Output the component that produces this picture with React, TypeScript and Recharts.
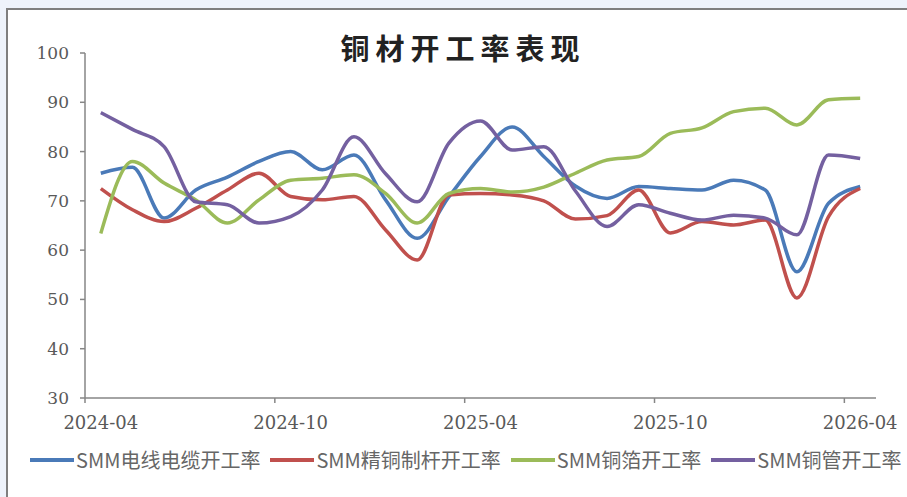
import { LineChart, Line, XAxis, YAxis } from "recharts";

const months = [
  "2024-04", "2024-05", "2024-06", "2024-07", "2024-08", "2024-09",
  "2024-10", "2024-11", "2024-12", "2025-01", "2025-02", "2025-03",
  "2025-04", "2025-05", "2025-06", "2025-07", "2025-08", "2025-09",
  "2025-10", "2025-11", "2025-12", "2026-01", "2026-02", "2026-03",
  "2026-04",
];

const wireCable = [75.6, 76.8, 66.5, 72.2, 74.8, 78, 80, 76.3, 79.3, 70.2, 62.4, 70.8, 79, 85, 79, 73, 70.5, 72.9, 72.5, 72.2, 74.2, 72.2, 55.6, 69.5, 72.9];
const copperRod = [72.5, 68.2, 65.8, 68.5, 72.2, 75.6, 70.9, 70.2, 70.9, 64.1, 58, 71.2, 71.5, 71.2, 70, 66.3, 67, 72.2, 63.5, 65.8, 65.1, 66.1, 50.3, 66.8, 72.5];
const copperFoil = [63.4, 78, 73.6, 70.2, 65.5, 70.2, 74.2, 74.6, 75.3, 71.5, 65.5, 71.5, 72.5, 71.8, 72.8, 75.6, 78.3, 79, 83.7, 84.8, 88.1, 88.8, 85.4, 90.5, 90.8];
const copperTube = [87.9, 84.5, 81, 69.8, 69.2, 65.5, 66.8, 72.2, 83, 75.5, 69.8, 81.7, 86.2, 80.3, 81, 72, 64.8, 69.2, 67.5, 66.1, 67.1, 66.5, 63.1, 79.3, 78.6];

const yTicks = [30, 40, 50, 60, 70, 80, 90, 100];
const labelTicks = [0.5, 6.5, 12.5, 18.5, 24.5];

const series = [
  { key: "wire", name: "SMM电线电缆开工率", color: "#4a7ab8", values: wireCable },
  { key: "rod", name: "SMM精铜制杆开工率", color: "#c0504d", values: copperRod },
  { key: "foil", name: "SMM铜箔开工率", color: "#9bbb59", values: copperFoil },
  { key: "tube", name: "SMM铜管开工率", color: "#7460a0", values: copperTube },
];

const data = months.map((m, i) => {
  const row: Record<string, number | string> = { month: m, x: i + 0.5 };
  series.forEach((s) => {
    row[s.key] = s.values[i];
  });
  return row;
});

const W = 907;
const H = 497;
const margin = { top: 53, right: 31, bottom: 69, left: 25 };
const yAxisWidth = 60;
const plotWidth = W - margin.left - margin.right - yAxisWidth;
const halfBand = plotWidth / months.length / 2;
const TICK_SIZE = 5;
const TICK_MARGIN = 13;

const tickFont = { fill: "#595959", fontSize: 18, fontFamily: "DejaVu Serif" };

// label sits in the middle of the month, tick mark on the month boundary
function MonthTick(props: any) {
  const { x, y, payload } = props;
  const axisY = y - TICK_MARGIN - TICK_SIZE;
  return (
    <g>
      <line
        x1={x - halfBand}
        x2={x - halfBand}
        y1={axisY}
        y2={axisY + TICK_SIZE}
        stroke="#868686"
        strokeWidth={1.5}
      />
      <text x={x} y={y} dy="0.71em" textAnchor="middle" {...tickFont}>
        {months[Math.floor(payload.value)]}
      </text>
    </g>
  );
}

export default function App() {
  return (
    <div
      style={{
        position: "absolute",
        left: 0,
        top: 0,
        width: W,
        height: H,
        overflow: "hidden",
        background: "#eef3fb",
      }}
    >
      <div
        style={{
          position: "absolute",
          left: 6,
          top: 8,
          width: 1000,
          height: 600,
          border: "2px solid #7f7f7f",
          background: "#ffffff",
        }}
      />
      <div
        style={{
          position: "absolute",
          left: 0,
          top: 28,
          width: 926,
          textAlign: "center",
          fontFamily: "Noto Sans CJK SC",
          fontWeight: 700,
          fontSize: 29,
          letterSpacing: 6,
          lineHeight: "38px",
          color: "#222",
        }}
      >
        铜材开工率表现
      </div>
      <div style={{ position: "absolute", left: 0, top: 0 }}>
        <LineChart width={W} height={H} data={data} margin={margin}>
          <XAxis
            dataKey="x"
            type="number"
            domain={[0, 25]}
            ticks={labelTicks}
            stroke="#868686"
            strokeWidth={1.5}
            tickLine={false}
            tickSize={TICK_SIZE}
            tickMargin={TICK_MARGIN}
            height={30}
            tick={<MonthTick />}
            interval={0}
          />
          <YAxis
            domain={[30, 100]}
            ticks={yTicks}
            width={yAxisWidth}
            tickSize={5}
            tickMargin={11}
            stroke="#868686"
            strokeWidth={1.5}
            tick={{ ...tickFont, fontSize: 17 }}
            interval={0}
          />
          {series.map((s) => (
            <Line
              key={s.key}
              dataKey={s.key}
              name={s.name}
              type="monotone"
              stroke={s.color}
              strokeWidth={3.5}
              dot={false}
              isAnimationActive={false}
            />
          ))}
        </LineChart>
      </div>
      <div
        style={{
          position: "absolute",
          left: 30,
          top: 446,
          display: "flex",
          alignItems: "center",
          whiteSpace: "nowrap",
          fontFamily: "Noto Sans CJK SC",
          fontSize: 20,
          lineHeight: "28px",
          color: "#666666",
        }}
      >
        {series.map((s) => (
          <div key={s.key} style={{ display: "flex", alignItems: "center", marginRight: 10 }}>
            <div style={{ width: 44, height: 4, background: s.color, marginRight: 2 }} />
            <span>{s.name}</span>
          </div>
        ))}
      </div>
    </div>
  );
}
